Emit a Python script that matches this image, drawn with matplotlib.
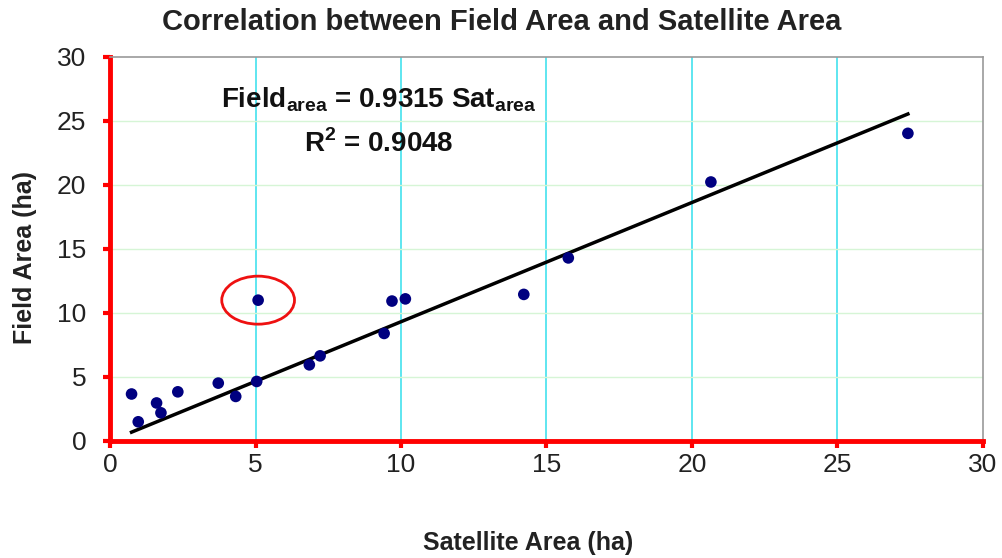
import matplotlib
matplotlib.use("Agg")
import matplotlib.pyplot as plt
from matplotlib.patches import Ellipse
import numpy as np

sat_area = [0.74, 0.97, 1.6, 1.75, 2.33, 3.72, 4.32, 5.04, 5.09, 6.85, 7.22, 9.42, 9.69, 10.15, 14.22, 15.75, 20.65, 27.42]
field_area = [3.67, 1.5, 2.97, 2.2, 3.84, 4.52, 3.48, 4.65, 11.0, 5.95, 6.65, 8.4, 10.93, 11.1, 11.45, 14.3, 20.23, 24.03]
slope = 0.9315
r2 = 0.9048
xticks = [0, 5, 10, 15, 20, 25, 30]
yticks = [0, 5, 10, 15, 20, 25, 30]

plt.rcParams['font.family'] = ['Liberation Sans', 'DejaVu Sans']

fig = plt.figure(figsize=(10.02, 5.58), dpi=100)
ax = fig.add_axes([0.1098, 0.2097, 0.981 - 0.1098, 0.898 - 0.2097])

ax.set_xlim(0, 30)
ax.set_ylim(0, 30)
ax.set_xticks(xticks)
ax.set_yticks(yticks)

for xv in xticks[1:-1]:
    ax.axvline(xv, color='#5ee6f0', lw=1.4, zorder=1)
for yv in yticks[1:-1]:
    ax.axhline(yv, color='#d6f5d6', lw=1.0, zorder=1)

xs = np.array([min(sat_area), max(sat_area)])
ax.plot(xs, slope * xs, color='black', lw=2.5, zorder=3)
ax.scatter(sat_area, field_area, s=70, color='#000080', zorder=4, edgecolors='none')

ax.add_patch(Ellipse((5.09, 11.0), 2.5, 3.75, fill=False, edgecolor='#ee1111', lw=2, zorder=5))

for s in ['left', 'bottom']:
    ax.spines[s].set_color('#ff0000')
    ax.spines[s].set_linewidth(3.5)
for s in ['top', 'right']:
    ax.spines[s].set_color('#999999')
    ax.spines[s].set_linewidth(1.2)

ax.tick_params(axis='both', direction='out', color='#ff0000', length=5, width=3,
               labelsize=19, labelcolor='#222222')
ax.tick_params(axis='y', pad=12)
ax.tick_params(axis='x', pad=4)

ax.set_xlabel('Satellite Area (ha)', fontsize=18, fontweight='bold', color='#222222')
ax.xaxis.label.set_va('center')
ax.xaxis.set_label_coords(0.479, -0.266)
ax.set_ylabel('Field Area (ha)', fontsize=18, fontweight='bold', color='#222222')
ax.yaxis.label.set_va('center')
ax.yaxis.set_label_coords(-0.0974, 0.479)

fig.text(0.501, 0.9606, 'Correlation between Field Area and Satellite Area',
         ha='center', va='center', fontsize=21, fontweight='bold', color='#222222')

ax.text(9.24, 26.7, r'Field$_{\mathregular{area}}$ = 0.9315 Sat$_{\mathregular{area}}$',
        ha='center', va='center', fontsize=20, fontweight='bold', color='#111111', zorder=6)
ax.text(9.24, 23.2, r'R$^{\mathregular{2}}$ = 0.9048',
        ha='center', va='center', fontsize=20, fontweight='bold', color='#111111', zorder=6)

fig.savefig('out.png', dpi=100)
